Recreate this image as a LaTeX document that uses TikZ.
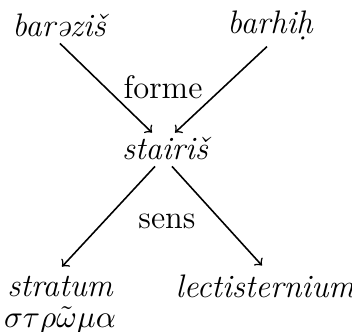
\documentclass[tikz,border=0pt]{standalone}
\usepackage{tikz}
\usetikzlibrary{calc}

\begin{document}
\begin{tikzpicture}[x=0.35pt, y=-0.35pt, font=\fontsize{11.4}{13}\selectfont,
  word/.style={inner sep=0.5pt, font=\fontsize{11.4}{13}\selectfont\itshape},
  arr/.style={->, line width=0.55pt}]
  \useasboundingbox (0,0) rectangle (352,331);

  \node[word] (barazis) at (59,25) {barəziš};
  \node[word] (barhih) at (270,25) {barhi\d{h}};
  \node[inner sep=0.5pt] (forme) at (163,87) {forme};
  \node[word] (stairis) at (165,148) {stairiš};
  \node[inner sep=0.5pt] (sens) at (167,221) {sens};
  \node[word] (stratum) at (60,286) {stratum};
  \node[word] (lectis) at (265,286) {lectisternium};
  \node[inner sep=0.5pt] (strwma) at (60,320) {$\sigma\tau\rho\tilde{\omega}\mu\alpha$};

  \draw[arr] ($(barazis.south)+(1,5)$) -- ($(stairis.north)+(-13,-2)$);
  \draw[arr] ($(barhih.south)+(-3,5)$) -- ($(stairis.north)+(10,-2)$);
  \draw[arr] ($(stairis.south)+(-10,5)$) -- ($(stratum.north)+(2,-7)$);
  \draw[arr] ($(stairis.south)+(7,5)$) -- ($(lectis.north)+(-3,-7)$);
\end{tikzpicture}
\end{document}
